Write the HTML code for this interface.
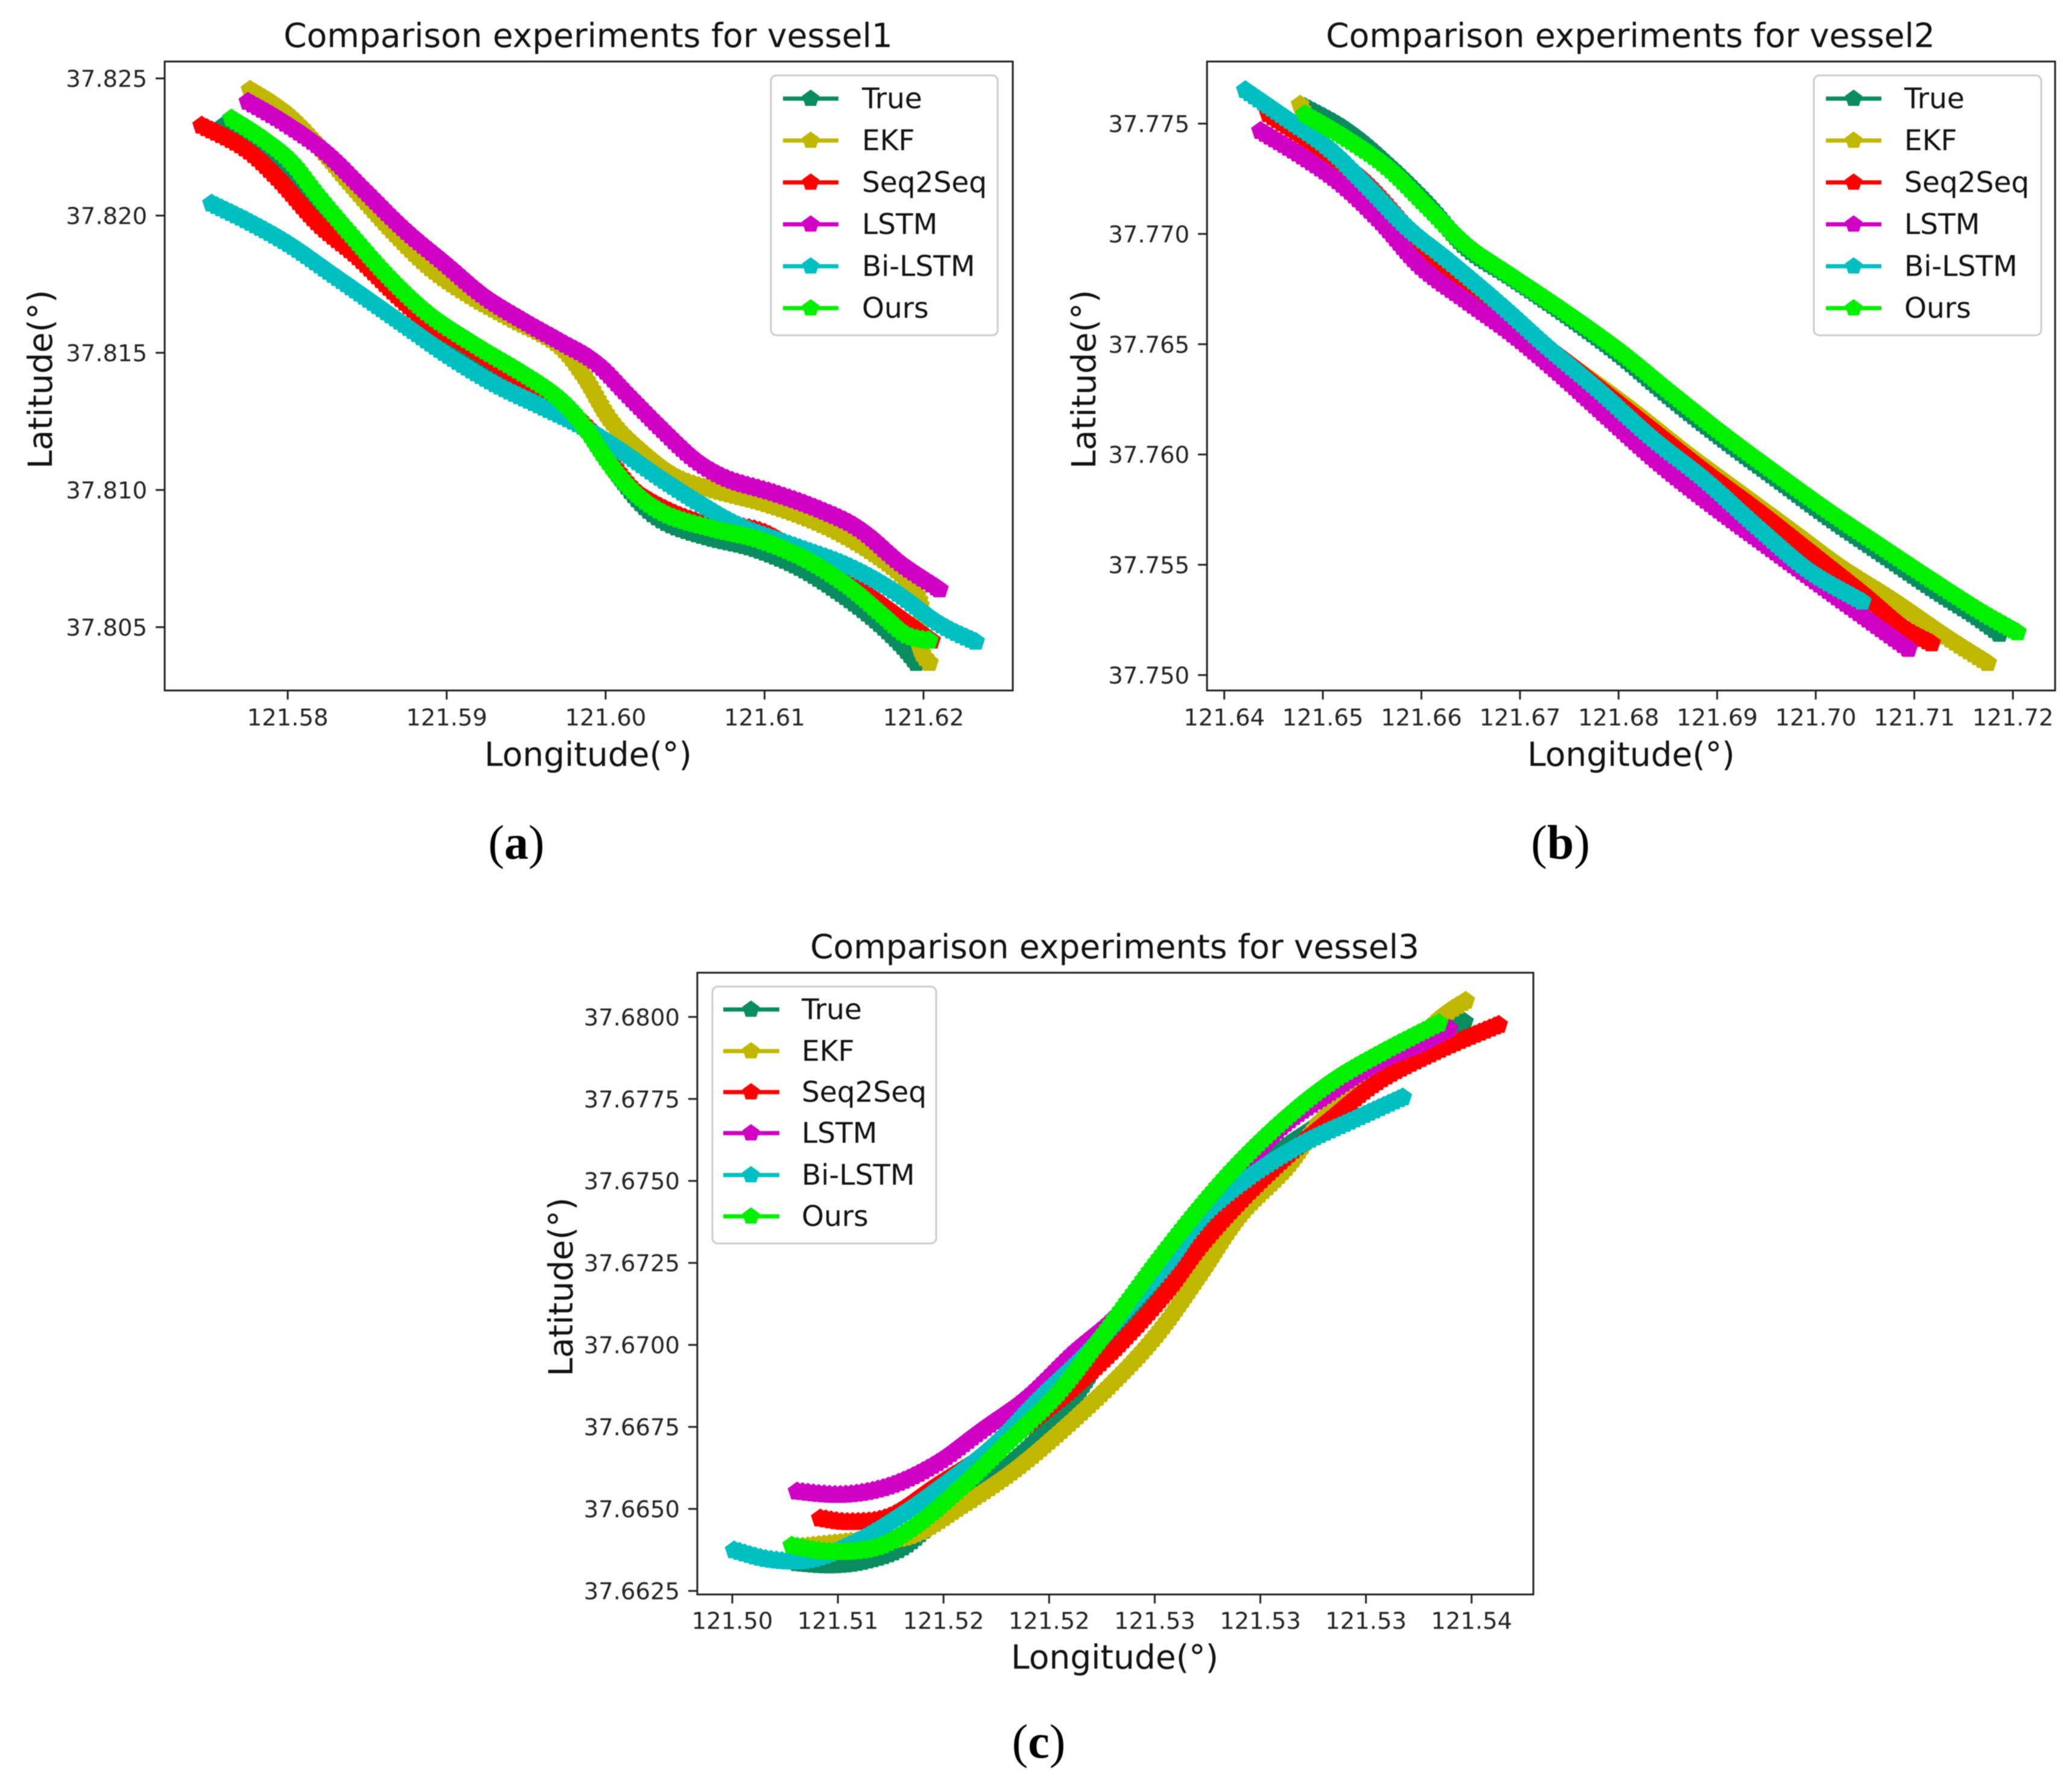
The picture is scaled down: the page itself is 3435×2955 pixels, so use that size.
<!DOCTYPE html>
<html lang="en">
<head>
<meta charset="utf-8">
<title>Comparison experiments for vessels</title>
<style>
html,body{margin:0;padding:0;background:#fff;width:3435px;height:2955px;overflow:hidden}
svg{display:block;position:absolute;left:0;top:0;filter:blur(.7px)}
text{font-family:"DejaVu Sans","Liberation Sans",sans-serif;fill:#111}
.title,.axis{font-size:55px}
.legend{font-size:47px}
.tick{font-size:38.5px;fill:#222}
.cap{font-family:"Liberation Serif",serif;font-size:80px;fill:#000}
.box{fill:#fff;fill-opacity:.9;stroke:#ccc;stroke-width:3}
.h{stroke-width:7;fill:none}
</style>
</head>
<body>
<svg id="chart" xmlns="http://www.w3.org/2000/svg" width="3435" height="2955" viewBox="0 0 3435 2955">
<rect x="0" y="0" width="3435" height="2955" fill="#fff"/>
<g id="plot-a"></g>
<g id="plot-b"></g>
<g id="plot-c"></g>

<text class="title" x="975" y="78" text-anchor="middle">Comparison experiments for vessel1</text>
<text class="axis" x="975" y="1270" text-anchor="middle">Longitude(°)</text>
<text class="axis" transform="translate(86,629) rotate(-90)" text-anchor="middle">Latitude(°)</text>
<text class="cap" x="856" y="1424" text-anchor="middle">(<tspan font-weight="bold">a</tspan>)</text>

<text class="title" x="2703" y="78" text-anchor="middle">Comparison experiments for vessel2</text>
<text class="axis" x="2704" y="1270" text-anchor="middle">Longitude(°)</text>
<text class="axis" transform="translate(1816,629) rotate(-90)" text-anchor="middle">Latitude(°)</text>
<text class="cap" x="2587" y="1424" text-anchor="middle">(<tspan font-weight="bold">b</tspan>)</text>

<text class="title" x="1848" y="1589" text-anchor="middle">Comparison experiments for vessel3</text>
<text class="axis" x="1848" y="2767" text-anchor="middle">Longitude(°)</text>
<text class="axis" transform="translate(949,2134) rotate(-90)" text-anchor="middle">Latitude(°)</text>
<text class="cap" x="1722" y="2915" text-anchor="middle">(<tspan font-weight="bold">c</tspan>)</text>

<defs><polygon id="pent" points="0,-15 14.3,-4.6 8.8,12.1 -8.8,12.1 -14.3,-4.6"/></defs>

<g transform="translate(1278,125)">
<rect class="box" x="0" y="0" width="376" height="431" rx="9"/>
<g transform="translate(0,38.5)"><line class="h" x1="20" x2="112" stroke="#0a8c60"/><use href="#pent" x="66" fill="#0a8c60"/><text class="legend" x="151" y="16">True</text></g>
<g transform="translate(0,108)"><line class="h" x1="20" x2="112" stroke="#c0b800"/><use href="#pent" x="66" fill="#c0b800"/><text class="legend" x="151" y="16">EKF</text></g>
<g transform="translate(0,177.5)"><line class="h" x1="20" x2="112" stroke="#ff0000"/><use href="#pent" x="66" fill="#ff0000"/><text class="legend" x="151" y="16">Seq2Seq</text></g>
<g transform="translate(0,247)"><line class="h" x1="20" x2="112" stroke="#cf00c4"/><use href="#pent" x="66" fill="#cf00c4"/><text class="legend" x="151" y="16">LSTM</text></g>
<g transform="translate(0,316.5)"><line class="h" x1="20" x2="112" stroke="#00bfc0"/><use href="#pent" x="66" fill="#00bfc0"/><text class="legend" x="151" y="16">Bi-LSTM</text></g>
<g transform="translate(0,386)"><line class="h" x1="20" x2="112" stroke="#00f000"/><use href="#pent" x="66" fill="#00f000"/><text class="legend" x="151" y="16">Ours</text></g>
</g>

<g transform="translate(3007,125)">
<rect class="box" x="0" y="0" width="377" height="431" rx="9"/>
<g transform="translate(0,38.5)"><line class="h" x1="20" x2="112" stroke="#0a8c60"/><use href="#pent" x="66" fill="#0a8c60"/><text class="legend" x="150" y="16">True</text></g>
<g transform="translate(0,108)"><line class="h" x1="20" x2="112" stroke="#c0b800"/><use href="#pent" x="66" fill="#c0b800"/><text class="legend" x="150" y="16">EKF</text></g>
<g transform="translate(0,177.5)"><line class="h" x1="20" x2="112" stroke="#ff0000"/><use href="#pent" x="66" fill="#ff0000"/><text class="legend" x="150" y="16">Seq2Seq</text></g>
<g transform="translate(0,247)"><line class="h" x1="20" x2="112" stroke="#cf00c4"/><use href="#pent" x="66" fill="#cf00c4"/><text class="legend" x="150" y="16">LSTM</text></g>
<g transform="translate(0,316.5)"><line class="h" x1="20" x2="112" stroke="#00bfc0"/><use href="#pent" x="66" fill="#00bfc0"/><text class="legend" x="150" y="16">Bi-LSTM</text></g>
<g transform="translate(0,386)"><line class="h" x1="20" x2="112" stroke="#00f000"/><use href="#pent" x="66" fill="#00f000"/><text class="legend" x="150" y="16">Ours</text></g>
</g>

<g transform="translate(1181,1636)">
<rect class="box" x="0" y="0" width="371" height="426" rx="9"/>
<g transform="translate(0,38)"><line class="h" x1="18" x2="111" stroke="#0a8c60"/><use href="#pent" x="64" fill="#0a8c60"/><text class="legend" x="148" y="16">True</text></g>
<g transform="translate(0,107)"><line class="h" x1="18" x2="111" stroke="#c0b800"/><use href="#pent" x="64" fill="#c0b800"/><text class="legend" x="148" y="16">EKF</text></g>
<g transform="translate(0,175)"><line class="h" x1="18" x2="111" stroke="#ff0000"/><use href="#pent" x="64" fill="#ff0000"/><text class="legend" x="148" y="16">Seq2Seq</text></g>
<g transform="translate(0,243)"><line class="h" x1="18" x2="111" stroke="#cf00c4"/><use href="#pent" x="64" fill="#cf00c4"/><text class="legend" x="148" y="16">LSTM</text></g>
<g transform="translate(0,312.5)"><line class="h" x1="18" x2="111" stroke="#00bfc0"/><use href="#pent" x="64" fill="#00bfc0"/><text class="legend" x="148" y="16">Bi-LSTM</text></g>
<g transform="translate(0,381)"><line class="h" x1="18" x2="111" stroke="#00f000"/><use href="#pent" x="64" fill="#00f000"/><text class="legend" x="148" y="16">Ours</text></g>
</g>
</svg>
<script>
// ---- vessel 1 data ----
const v1XTicks=[121.58,121.59,121.60,121.61,121.62];
const v1XLabels=['121.58','121.59','121.60','121.61','121.62'];
const v1YTicks=[37.825,37.820,37.815,37.810,37.805];
const v1YLabels=['37.825','37.820','37.815','37.810','37.805'];
const v1TrueLon=[121.57596,121.57854,121.58062,121.58271,121.5852,121.5877,121.5902,121.59353,121.59686,121.59894,121.6006,121.60227,121.60393,121.60643,121.60934,121.61226,121.61475,121.61683,121.6185,121.61954];
const v1TrueLat=[37.82328,37.82236,37.82115,37.81952,37.8181,37.81668,37.81547,37.81435,37.81324,37.81212,37.8107,37.80948,37.80877,37.80827,37.80786,37.80715,37.80624,37.80532,37.80441,37.8037];
const v1EkfLon=[121.57763,121.57979,121.58187,121.58395,121.58645,121.58895,121.59145,121.59394,121.59686,121.59852,121.60019,121.60185,121.60435,121.60684,121.61017,121.6135,121.61642,121.61891,121.61983,121.61975,121.62037];
const v1EkfLat=[37.82459,37.82378,37.82257,37.82115,37.81952,37.8181,37.81709,37.81628,37.81537,37.81425,37.81263,37.81161,37.8105,37.80999,37.80948,37.80877,37.80786,37.80674,37.80573,37.80431,37.8037];
const v1SeqLon=[121.57459,121.57729,121.57938,121.58187,121.58437,121.58687,121.58895,121.59103,121.59353,121.59644,121.59894,121.6006,121.60227,121.6056,121.60934,121.61184,121.61559,121.61808,121.6205];
const v1SeqLat=[37.82328,37.82246,37.82135,37.81973,37.81851,37.81709,37.81607,37.81537,37.81445,37.81344,37.81222,37.8108,37.80979,37.80887,37.80857,37.80786,37.80654,37.80553,37.80451];
const v1LstmLon=[121.5775,121.57979,121.58229,121.58479,121.58728,121.58978,121.59228,121.59478,121.59727,121.59935,121.60143,121.60352,121.6056,121.60768,121.61059,121.6135,121.616,121.6185,121.621];
const v1LstmLat=[37.82415,37.82338,37.82236,37.82094,37.81952,37.81831,37.81709,37.81618,37.81537,37.81466,37.81344,37.81222,37.81111,37.8104,37.80989,37.80928,37.80857,37.80735,37.80638];
const v1BiLon=[121.57521,121.57771,121.58021,121.58271,121.5852,121.5877,121.5902,121.59311,121.59602,121.59852,121.60102,121.60352,121.60601,121.60851,121.61184,121.61517,121.61808,121.621,121.62328];
const v1BiLat=[37.82044,37.81973,37.81891,37.8179,37.81689,37.81587,37.81486,37.81384,37.81303,37.81232,37.81141,37.8104,37.80948,37.80867,37.80796,37.80725,37.80634,37.80512,37.80447];
const v1OursLon=[121.57646,121.57854,121.58021,121.58187,121.58395,121.58645,121.58895,121.59186,121.59478,121.59686,121.59852,121.60019,121.60185,121.60393,121.60684,121.60976,121.61267,121.61517,121.61725,121.61891,121.62037];
const v1OursLat=[37.82354,37.82277,37.82196,37.82074,37.81932,37.8177,37.81638,37.81526,37.81425,37.81344,37.81242,37.811,37.80989,37.80908,37.80857,37.80816,37.80745,37.80654,37.80553,37.80472,37.80451];

// ---- vessel 2 data ----
const v2XTicks=[121.64,121.65,121.66,121.67,121.68,121.69,121.70,121.71,121.72];
const v2XLabels=['121.64','121.65','121.66','121.67','121.68','121.69','121.70','121.71','121.72'];
const v2YTicks=[37.775,37.770,37.765,37.760,37.755,37.750];
const v2YLabels=['37.775','37.770','37.765','37.760','37.755','37.750'];
const v2TrueLon=[121.64817,121.65252,121.65653,121.66055,121.66456,121.66925,121.6746,121.67996,121.68531,121.69067,121.69602,121.70137,121.70673,121.71208,121.7161,121.71864];
const v2TrueLat=[37.77576,37.77467,37.77316,37.77139,37.76937,37.76798,37.76634,37.76457,37.76255,37.76066,37.75889,37.75712,37.75548,37.75384,37.7527,37.75187];
const v2EkfLon=[121.6477,121.64984,121.65452,121.65988,121.66523,121.67059,121.67594,121.6813,121.68665,121.692,121.69736,121.70271,121.70807,121.71342,121.71744];
const v2EkfLat=[37.77586,37.77354,37.77202,37.76924,37.76722,37.76545,37.76381,37.76205,37.76015,37.75838,37.75662,37.75485,37.75333,37.75169,37.75055];
const v2SeqLon=[121.64448,121.64917,121.65385,121.65854,121.66256,121.66791,121.67326,121.67795,121.6833,121.68866,121.69401,121.69937,121.70472,121.70874,121.71175];
const v2SeqLat=[37.77543,37.77404,37.77253,37.77025,37.76823,37.76634,37.7647,37.76306,37.76116,37.75927,37.7575,37.75561,37.75371,37.7522,37.75144];
const v2LstmLon=[121.64368,121.64783,121.65185,121.65586,121.65988,121.66456,121.66925,121.67393,121.67862,121.68397,121.68933,121.69468,121.70004,121.70472,121.70941];
const v2LstmLat=[37.77467,37.77354,37.77227,37.77056,37.76854,37.76697,37.76545,37.76369,37.76179,37.75965,37.75775,37.75598,37.75422,37.7527,37.75119];
const v2BiLon=[121.64214,121.64649,121.65051,121.65452,121.65854,121.66256,121.66791,121.6726,121.67795,121.6833,121.68866,121.69401,121.69937,121.70472];
const v2BiLat=[37.77652,37.77518,37.77391,37.77215,37.7703,37.76886,37.76684,37.76495,37.76293,37.76078,37.75889,37.75674,37.75472,37.75333];
const v2OursLon=[121.64817,121.65252,121.65653,121.66055,121.66456,121.66925,121.6746,121.67996,121.68531,121.69067,121.69602,121.70137,121.70673,121.71208,121.71677,121.72045];
const v2OursLat=[37.77543,37.77429,37.77303,37.77126,37.76949,37.76806,37.76646,37.76475,37.7628,37.76091,37.75914,37.75742,37.75581,37.75422,37.75288,37.75194];

// ---- vessel 3 data ----
const v3XTicks=[121.505,121.51,121.515,121.52,121.525,121.53,121.535,121.54];
const v3XLabels=['121.50','121.51','121.52','121.52','121.53','121.53','121.53','121.54'];
const v3YTicks=[37.68,37.6775,37.675,37.6725,37.67,37.6675,37.665,37.6625];
const v3YLabels=['37.6800','37.6775','37.6750','37.6725','37.6700','37.6675','37.6650','37.6625'];
const v3TrueLon=[121.50807,121.50964,121.5112,121.51308,121.51496,121.51716,121.51935,121.52123,121.52311,121.52468,121.52656,121.52875,121.53094,121.53314,121.53533,121.53752,121.53966];
const v3TrueLat=[37.66335,37.66328,37.6634,37.66383,37.66485,37.66587,37.66707,37.66843,37.6703,37.67167,37.67337,37.67473,37.67593,37.67695,37.67848,37.67934,37.67985];
const v3EkfLon=[121.50807,121.51058,121.5134,121.5159,121.51841,121.52092,121.52342,121.5253,121.52718,121.52906,121.53126,121.53282,121.5347,121.53658,121.53846,121.53972];
const v3EkfLat=[37.66383,37.664,37.66417,37.66511,37.66621,37.66758,37.66911,37.67047,37.67218,37.67397,37.67542,37.67678,37.67797,37.67865,37.67993,37.68049];
const v3SeqLon=[121.50917,121.51058,121.51246,121.51465,121.51716,121.51966,121.52186,121.52374,121.52562,121.52718,121.52906,121.53126,121.53345,121.53564,121.53846,121.54128];
const v3SeqLat=[37.66471,37.6646,37.66477,37.6657,37.66673,37.66792,37.66911,37.6703,37.67167,37.67303,37.67439,37.67576,37.67695,37.67806,37.67899,37.67976];
const v3LstmLon=[121.50807,121.51026,121.51246,121.51465,121.51684,121.51904,121.52123,121.52311,121.52468,121.52687,121.52875,121.53094,121.53314,121.53564,121.53752,121.53893];
const v3LstmLat=[37.66553,37.66543,37.6657,37.66638,37.66741,37.66843,37.66979,37.67082,37.67201,37.67371,37.67508,37.67661,37.67763,37.67865,37.67917,37.67964];
const v3BiLon=[121.50509,121.50682,121.5087,121.51089,121.51308,121.51528,121.51747,121.51966,121.52186,121.52374,121.52562,121.52718,121.52938,121.53188,121.53439,121.53674];
const v3BiLat=[37.66374,37.66345,37.66345,37.664,37.66485,37.66587,37.66698,37.66843,37.66979,37.67116,37.67252,37.67388,37.67508,37.6761,37.67686,37.67755];
const v3OursLon=[121.50782,121.50964,121.51183,121.51371,121.5159,121.5181,121.52029,121.52217,121.52374,121.5253,121.52718,121.52906,121.53126,121.53345,121.53596,121.53846];
const v3OursLat=[37.66388,37.66369,37.66383,37.66451,37.6657,37.66707,37.66843,37.66996,37.67133,37.67269,37.67422,37.67559,37.67695,37.67806,37.67899,37.67981];

const seriesNames=['true','ekf','seq2seq','lstm','bi-lstm','ours'];
const seriesColors=['#0a8c60','#c0b800','#ff0000','#cf00c4','#00bfc0','#00f000'];

const SVGNS='http://www.w3.org/2000/svg';
const STEP=9, RAD=16.5, LINE_W=22;

function linear(d0,r0,d1,r1){return v=>r0+(v-d0)*(r1-r0)/(d1-d0);}

function smoothPath(pts){
  let d='M'+pts[0][0].toFixed(1)+' '+pts[0][1].toFixed(1);
  for(let i=0;i<pts.length-1;i++){
    const p0=pts[Math.max(0,i-1)],p1=pts[i],p2=pts[i+1],p3=pts[Math.min(pts.length-1,i+2)];
    const c1=[p1[0]+(p2[0]-p0[0])/6,p1[1]+(p2[1]-p0[1])/6];
    const c2=[p2[0]-(p3[0]-p1[0])/6,p2[1]-(p3[1]-p1[1])/6];
    d+='C'+c1[0].toFixed(1)+' '+c1[1].toFixed(1)+' '+c2[0].toFixed(1)+' '+c2[1].toFixed(1)+' '+p2[0].toFixed(1)+' '+p2[1].toFixed(1);
  }
  return d;
}
function pentagon(x,y,r){
  let d='';
  for(let k=0;k<5;k++){
    const a=-Math.PI/2+k*2*Math.PI/5;
    d+=(k?'L':'M')+(x+r*Math.cos(a)).toFixed(1)+' '+(y+r*Math.sin(a)).toFixed(1);
  }
  return d+'Z';
}

function drawPlot(cfg){
  const root=document.getElementById(cfg.id);
  const sx=cfg.sx, sy=cfg.sy;
  cfg.lons.forEach((lon,i)=>{
    const pts=lon.map((v,j)=>[sx(v),sy(cfg.lats[i][j])]);
    const line=document.createElementNS(SVGNS,'path');
    
    
    line.setAttribute('d',smoothPath(pts));
    line.setAttribute('fill','none');
    line.setAttribute('stroke',seriesColors[i]);
    line.setAttribute('stroke-width',LINE_W);
    root.appendChild(line);
    const len=line.getTotalLength();
    let m='';
    for(let s=0;s<=len;s+=STEP){
      const p=line.getPointAtLength(s);
      m+=pentagon(p.x,p.y,RAD);
    }
    const e=line.getPointAtLength(len);
    m+=pentagon(e.x,e.y,RAD);
    const markers=document.createElementNS(SVGNS,'path');
    
    
    markers.setAttribute('d',m);
    markers.setAttribute('fill',seriesColors[i]);
    markers.setAttribute('fill-rule','nonzero');
    root.appendChild(markers);
  });
  const f=cfg.frame;
  const frame=document.createElementNS(SVGNS,'rect');
  
  
  frame.setAttribute('x',f.l);
  frame.setAttribute('y',f.t);
  frame.setAttribute('width',f.r-f.l);
  frame.setAttribute('height',f.b-f.t);
  frame.setAttribute('fill','none');
  frame.setAttribute('stroke','#222');
  frame.setAttribute('stroke-width','3');
  root.appendChild(frame);
  cfg.xTicks.forEach((v,i)=>{
    const t=document.createElementNS(SVGNS,'line');
    
    
    t.setAttribute('x1',sx(v));
    t.setAttribute('x2',sx(v));
    t.setAttribute('y1',f.b);
    t.setAttribute('y2',f.b+15);
    t.setAttribute('stroke','#222');
    t.setAttribute('stroke-width','3');
    root.appendChild(t);
    const l=document.createElementNS(SVGNS,'text');
    
    
    l.setAttribute('class','tick');
    l.setAttribute('x',sx(v));
    l.setAttribute('y',cfg.xLabelY);
    l.setAttribute('text-anchor','middle');
    l.textContent=cfg.xLabels[i];
    root.appendChild(l);
  });
  cfg.yTicks.forEach((v,i)=>{
    const t=document.createElementNS(SVGNS,'line');
    
    
    t.setAttribute('x1',f.l-15);
    t.setAttribute('x2',f.l);
    t.setAttribute('y1',sy(v));
    t.setAttribute('y2',sy(v));
    t.setAttribute('stroke','#222');
    t.setAttribute('stroke-width','3');
    root.appendChild(t);
    const l=document.createElementNS(SVGNS,'text');
    
    
    l.setAttribute('class','tick');
    l.setAttribute('x',f.l-29);
    l.setAttribute('y',sy(v)+14);
    l.setAttribute('text-anchor','end');
    l.textContent=cfg.yLabels[i];
    root.appendChild(l);
  });
}

drawPlot({id:'plot-a',frame:{l:273,r:1679,t:102,b:1145},xLabelY:1203,
  sx:linear(121.58,477,121.62,1531),sy:linear(37.825,130,37.805,1040),
  xTicks:v1XTicks,xLabels:v1XLabels,yTicks:v1YTicks,yLabels:v1YLabels,
  lons:[v1TrueLon,v1EkfLon,v1SeqLon,v1LstmLon,v1BiLon,v1OursLon],
  lats:[v1TrueLat,v1EkfLat,v1SeqLat,v1LstmLat,v1BiLat,v1OursLat]});
drawPlot({id:'plot-b',frame:{l:2001,r:3407,t:102,b:1145},xLabelY:1203,
  sx:linear(121.64,2029.6,121.72,3337),sy:linear(37.775,205,37.75,1119.4),
  xTicks:v2XTicks,xLabels:v2XLabels,yTicks:v2YTicks,yLabels:v2YLabels,
  lons:[v2TrueLon,v2EkfLon,v2SeqLon,v2LstmLon,v2BiLon,v2OursLon],
  lats:[v2TrueLat,v2EkfLat,v2SeqLat,v2LstmLat,v2BiLat,v2OursLat]});
drawPlot({id:'plot-c',frame:{l:1156,r:2542,t:1613,b:2644},xLabelY:2701,
  sx:linear(121.505,1214,121.54,2439.6),sy:linear(37.68,1686.3,37.6625,2638.1),
  xTicks:v3XTicks,xLabels:v3XLabels,yTicks:v3YTicks,yLabels:v3YLabels,
  lons:[v3TrueLon,v3EkfLon,v3SeqLon,v3LstmLon,v3BiLon,v3OursLon],
  lats:[v3TrueLat,v3EkfLat,v3SeqLat,v3LstmLat,v3BiLat,v3OursLat]});
</script>
</body>
</html>
